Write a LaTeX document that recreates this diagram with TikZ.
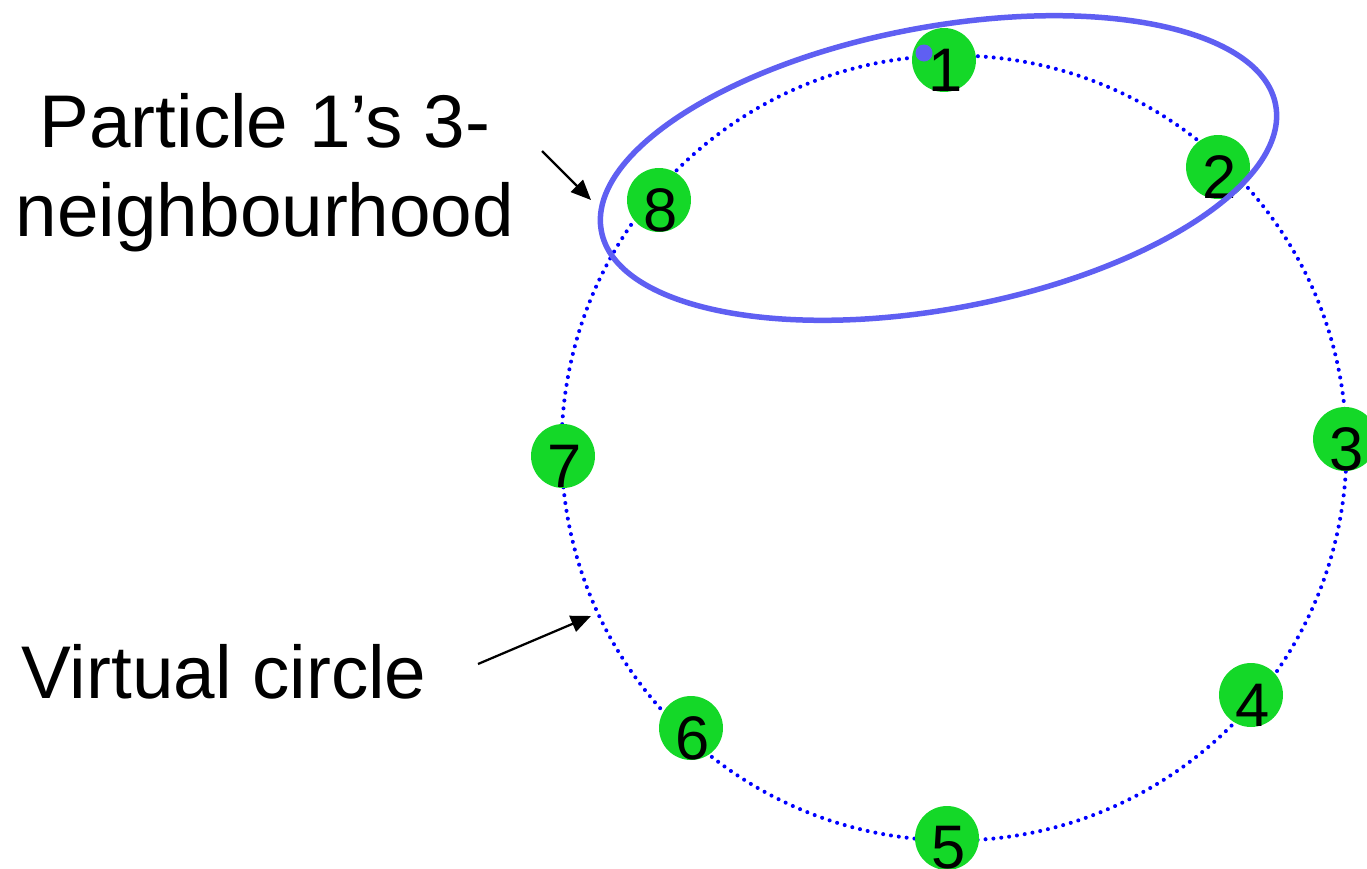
\documentclass[tikz,border=0pt]{standalone}
\usepackage{fontspec}
\setmainfont{Liberation Sans}
\usetikzlibrary{arrows.meta}
\definecolor{dotgreen}{RGB}{20,216,40}
\definecolor{hoodblue}{RGB}{95,95,242}

\begin{document}
\begin{tikzpicture}[x=0.02cm,y=-0.02cm,
  ring/.style={blue,line width=2.3pt,line cap=round,dash pattern=on 0pt off 4.5pt},
  pdot/.style={circle,fill=dotgreen,minimum size=1.28cm,inner sep=0pt},
  pnum/.style={inner sep=0pt,font=\fontsize{35}{42}\selectfont},
  hood/.style={draw=hoodblue,line width=0.11cm},
  callout/.style={font=\fontsize{42.5}{50.5}\selectfont,inner sep=0pt,align=center},
  pointer/.style={-{Triangle[length=0.4cm,width=0.34cm]},line width=0.045cm}]
  \useasboundingbox (0,0) rectangle (1367,869);
  % virtual circle and particles
  \coordinate (c) at (954,448);
  \draw[ring] (c) circle[radius=392.5];
  \foreach \n/\x/\y in {1/944/60,2/1218/167,3/1345/439,4/1251/695,5/947/838,6/691/728,7/563/456,8/659/200}
  {
    \node[pdot] (p\n) at (\x,\y) {};
    \node[pnum] (n\n) at ([shift={(2,10)}]p\n.center) {\n};
  }
  % neighbourhood of particle 1
  \draw[hood] (938.5,168) ellipse[x radius=343,y radius=141,rotate=10.6];
  \fill[hoodblue] (924,53) circle[radius=8.5];
  % labels
  \node[callout,anchor=north] (hoodtxt) at (265,93) {Particle 1’s 3-\\neighbourhood};
  \node[callout,anchor=base] (circtxt) at (224,698) {Virtual circle};
  \coordinate (hoodfrom) at (542,151);
  \coordinate (hoodto) at (591,200);
  \coordinate (circfrom) at (478,664);
  \coordinate (circto) at (591,616);
  \draw[pointer] (hoodfrom) -- (hoodto);
  \draw[pointer] (circfrom) -- (circto);
\end{tikzpicture}
\end{document}
